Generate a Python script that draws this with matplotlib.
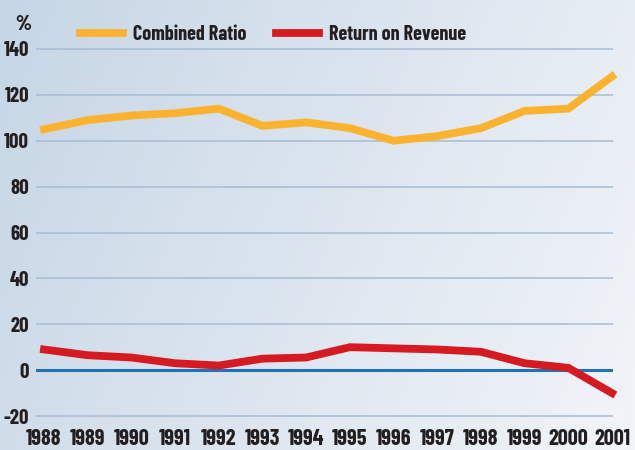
#
# Combined ratio vs return on revenue, 1988-2001
#
import numpy as np
import matplotlib
matplotlib.use('agg')
import matplotlib.pyplot as plt

years = [1988, 1989, 1990, 1991, 1992, 1993, 1994, 1995, 1996, 1997, 1998, 1999, 2000, 2001]
combined_ratio = [105, 109, 111, 112, 114, 106.5, 108, 105.5, 100, 102, 105.5, 113, 114, 128]
return_on_revenue = [9, 6.5, 5.5, 3, 2, 5, 5.5, 10, 9.5, 9, 8, 3, 1, -10]
yticks = [-20, 0, 20, 40, 60, 80, 100, 120, 140]

plt.rcParams['font.family'] = ['Barlow Condensed', 'Roboto Condensed', 'DejaVu Sans']
plt.rcParams['font.weight'] = 'bold'
FS = 16

W, H = 635, 450
fig = plt.figure(figsize=(W / 100, H / 100), dpi=100)

# background gradient (blue top-left -> near white bottom-right)
bg = fig.add_axes([0, 0, 1, 1], zorder=-10)
gx, gy = np.meshgrid(np.linspace(0, 1, 200), np.linspace(0, 1, 150))
t = np.clip(0.8 * gx + 0.25 * gy, 0, 1)
c0 = np.array([198, 214, 229]) / 255
c1 = np.array([240, 243, 248]) / 255
img = c0[None, None, :] * (1 - t[..., None]) + c1[None, None, :] * t[..., None]
bg.imshow(img, aspect='auto', extent=[0, 1, 0, 1], origin='upper')
bg.axis('off')

# axes placed so that data lines up with the reference
ymin, ymax = -21, 141
px_per = 367 / 160
bottom_px = 416 + (ymin + 20) * -px_per
top_px = 49 - (ymax - 140) * px_per
ax = fig.add_axes([36 / W, 1 - bottom_px / H, (613 - 36) / W, (bottom_px - top_px) / H])
ax.patch.set_alpha(0)
ax.set_xlim(1988 - 8 / 43.8, 2001 + 1 / 43.8)
ax.set_ylim(ymin, ymax)

for v in yticks:
    if v == 0:
        continue
    ax.axhline(v, color='#a7bcd3', lw=1.1, zorder=1)
ax.axhline(0, color='#1f72b4', lw=2.2, zorder=2)

ax.plot(years, combined_ratio, color='#fbb32f', lw=5.6, solid_joinstyle='miter',
        label='Combined Ratio', zorder=3, clip_on=False)
ax.plot(years, return_on_revenue, color='#d61a22', lw=5.6, solid_joinstyle='miter',
        label='Return on Revenue', zorder=3, clip_on=False)

for s in ax.spines.values():
    s.set_visible(False)
ax.set_yticks(yticks)
ax.set_yticklabels([str(v) for v in yticks])
ax.set_xticks(years)
ax.set_xticklabels([str(y) for y in years])
ax.tick_params(axis='y', length=0, pad=5, labelsize=15, labelcolor='#231f20')
ax.tick_params(axis='x', length=0, pad=8, labelsize=FS, labelcolor='#231f20')

fig.text(23 / W, 1 - 24 / H, '%', ha='center', va='center', fontsize=15,
         color='#231f20', fontweight='heavy')

leg = fig.legend(loc='center', bbox_to_anchor=(273 / W, 1 - 35 / H), ncol=2,
                 frameon=False, fontsize=14.5, handlelength=2.1, columnspacing=1.5,
                 handletextpad=0.5)
for txt in leg.get_texts():
    txt.set_color('#231f20')

plt.savefig('out.png', dpi=100)
